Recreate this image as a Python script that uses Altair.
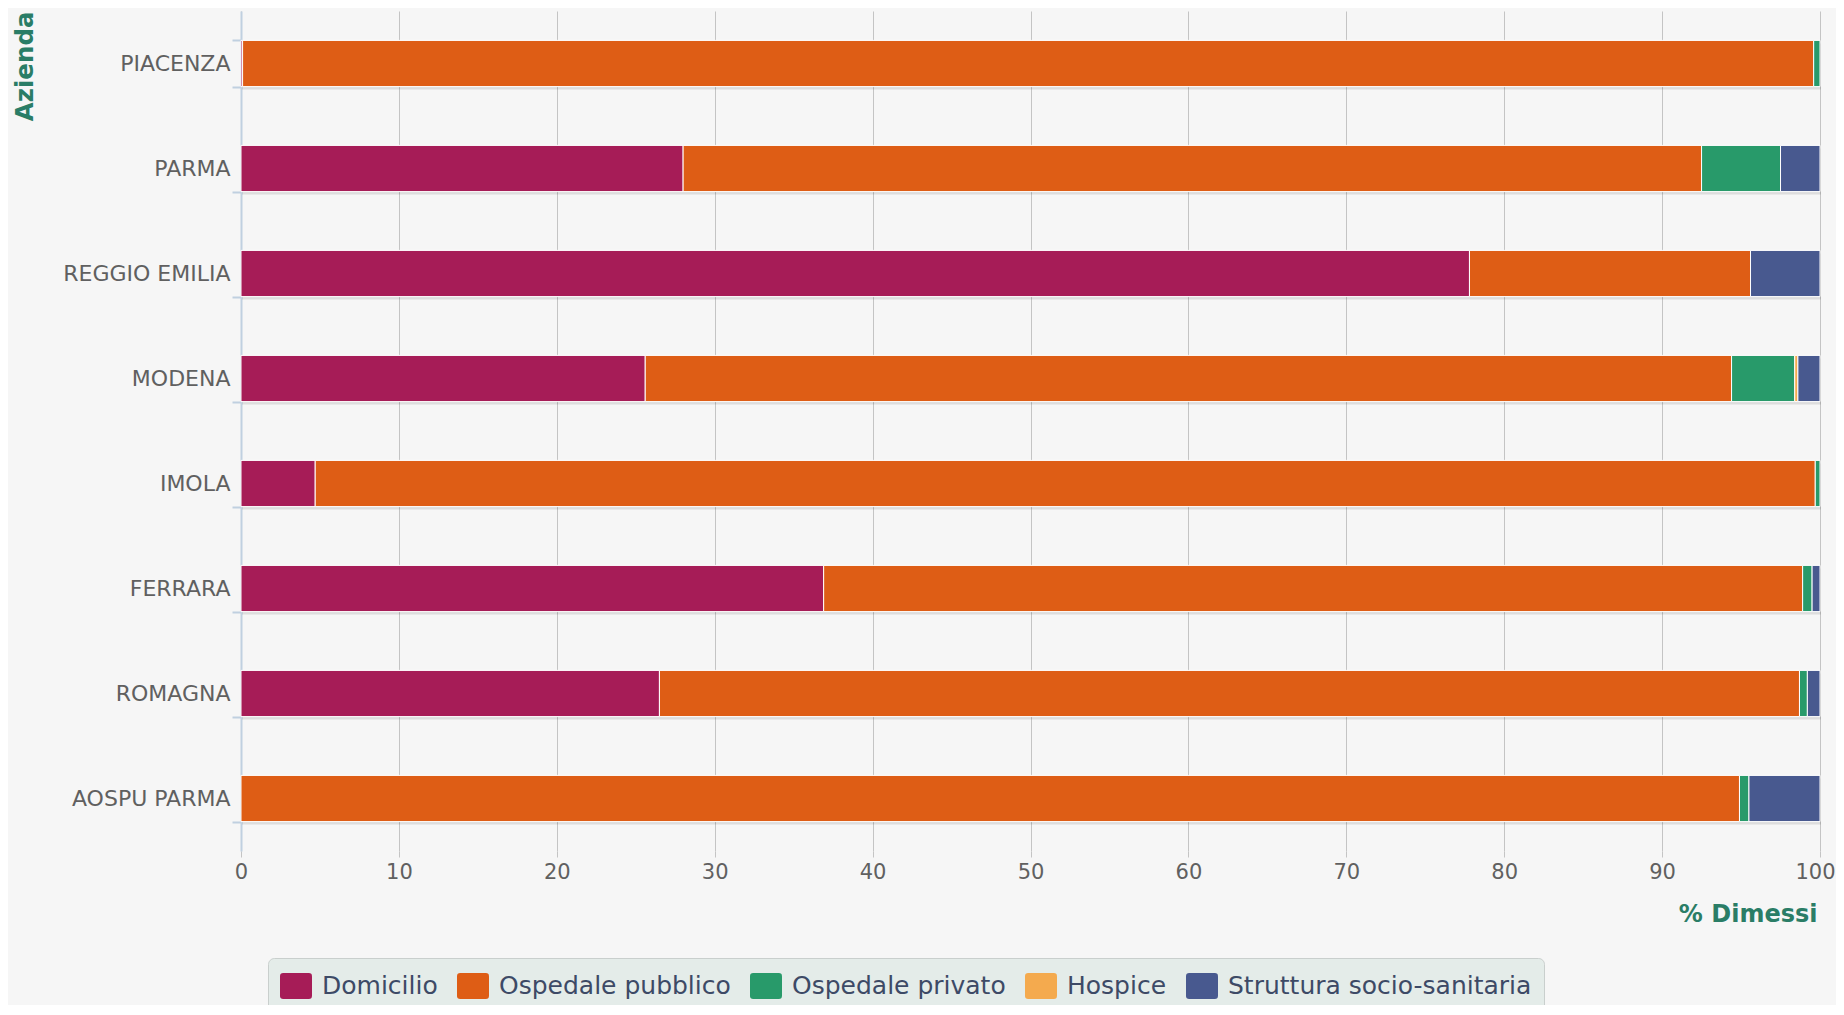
import altair as alt
import pandas as pd

aziende = ["PIACENZA", "PARMA", "REGGIO EMILIA", "MODENA", "IMOLA", "FERRARA", "ROMAGNA", "AOSPU PARMA"]
categorie = ["Domicilio", "Ospedale pubblico", "Ospedale privato", "Hospice", "Struttura socio-sanitaria"]
domicilio = [0.1, 28.0, 77.8, 25.6, 4.7, 36.9, 26.5, 0.0]
osp_pubblico = [99.5, 64.5, 17.8, 68.8, 95.0, 62.0, 72.2, 94.9]
osp_privato = [0.4, 5.0, 0.0, 4.0, 0.3, 0.6, 0.5, 0.6]
hospice = [0.0, 0.0, 0.0, 0.2, 0.0, 0.0, 0.0, 0.0]
struttura = [0.0, 2.5, 4.4, 1.4, 0.0, 0.5, 0.8, 4.5]
colori = ["#a61c57", "#de5d15", "#289a6a", "#f4aa4e", "#48598f"]
x_ticks = [0, 10, 20, 30, 40, 50, 60, 70, 80, 90, 100]

serie = [domicilio, osp_pubblico, osp_privato, hospice, struttura]
rows = []
for ci, (cat, vals) in enumerate(zip(categorie, serie)):
    for az, v in zip(aziende, vals):
        rows.append({"Azienda": az, "Categoria": cat, "Valore": v, "ordine": ci})
df = pd.DataFrame(rows)
df = df[df["Valore"] > 0]

tot = pd.DataFrame({"Azienda": aziende,
                    "Totale": [sum(s[i] for s in serie) for i in range(len(aziende))]})

ysc = alt.Scale(domain=aziende, paddingInner=0.56, paddingOuter=0.28)
xsc = alt.Scale(domain=[0, 100], nice=False)

green = "#2a7d66"

shadow = alt.Chart(tot).mark_bar(color="#000000", opacity=0.1, xOffset=1, yOffset=3).encode(
    y=alt.Y("Azienda:N", sort=aziende, scale=ysc),
    x=alt.X("Totale:Q", scale=xsc),
)

bar_symbol = ("M-0.8,-0.8125 H0.8 Q1,-0.8125 1,-0.6125 V0.6125 Q1,0.8125 0.8,0.8125 "
              "H-0.8 Q-1,0.8125 -1,0.6125 V-0.6125 Q-1,-0.8125 -0.8,-0.8125 Z")

bars = alt.Chart(df).mark_bar(stroke="white", strokeWidth=1).encode(
    y=alt.Y("Azienda:N", sort=aziende, scale=ysc,
            axis=alt.Axis(title="Azienda", titleAngle=270, titleAlign="right",
                          titleBaseline="top", titleX=-228, titleY=0,
                          titleColor=green, titleFont="DejaVu Sans", titleFontSize=24.5,
                          titleFontWeight="bold",
                          labelFont="DejaVu Sans", labelFontSize=22, labelColor="#606060",
                          labelPadding=2, tickBand="extent", tickSize=9,
                          tickColor="#c0d0e0", tickWidth=2,
                          domainColor="#c0d0e0", domainWidth=2, grid=False)),
    x=alt.X("Valore:Q", stack="zero", scale=xsc,
            axis=alt.Axis(title="% Dimessi", values=x_ticks, titleAlign="right",
                          titleAnchor="end", titleX=1576, titleY=70,
                          titleBaseline="alphabetic",
                          titleColor=green, titleFont="DejaVu Sans", titleFontSize=24,
                          titleFontWeight="bold", labelFlush=False,
                          labelOffset={"condition": {"test": "datum.value == 100", "value": -5},
                                       "value": 0},
                          labelFont="DejaVu Sans", labelFontSize=21, labelColor="#606060",
                          labelPadding=4, tickSize=6, tickColor="#c4c4c4",
                          domain=False, grid=True, gridColor="#c4c4c4", gridWidth=1)),
    color=alt.Color("Categoria:N", scale=alt.Scale(domain=categorie, range=colori),
                    legend=alt.Legend(title=None, orient="none", legendX=27, legendY=947,
                                      direction="horizontal", columns=5,
                                      symbolType=bar_symbol, symbolSize=1024,
                                      symbolStrokeWidth=0, symbolOpacity=1,
                                      labelFont="DejaVu Sans", labelFontSize=25,
                                      labelColor="#3d4a66", labelOffset=10,
                                      labelLimit=600, columnPadding=19,
                                      padding=12, fillColor="#e4ece9",
                                      strokeColor="#c9cfcd", cornerRadius=6)),
    order=alt.Order("ordine:Q"),
)

chart = alt.layer(shadow, bars).properties(
    width=1579, height=840,
    padding={"left": 233, "top": 3, "right": 16, "bottom": 154},
    autosize=alt.AutoSizeParams(type="none"),
    background="#f6f6f6",
).configure_view(stroke=None)

chart.save("out.html", embed_options={"renderer": "svg", "actions": False})
